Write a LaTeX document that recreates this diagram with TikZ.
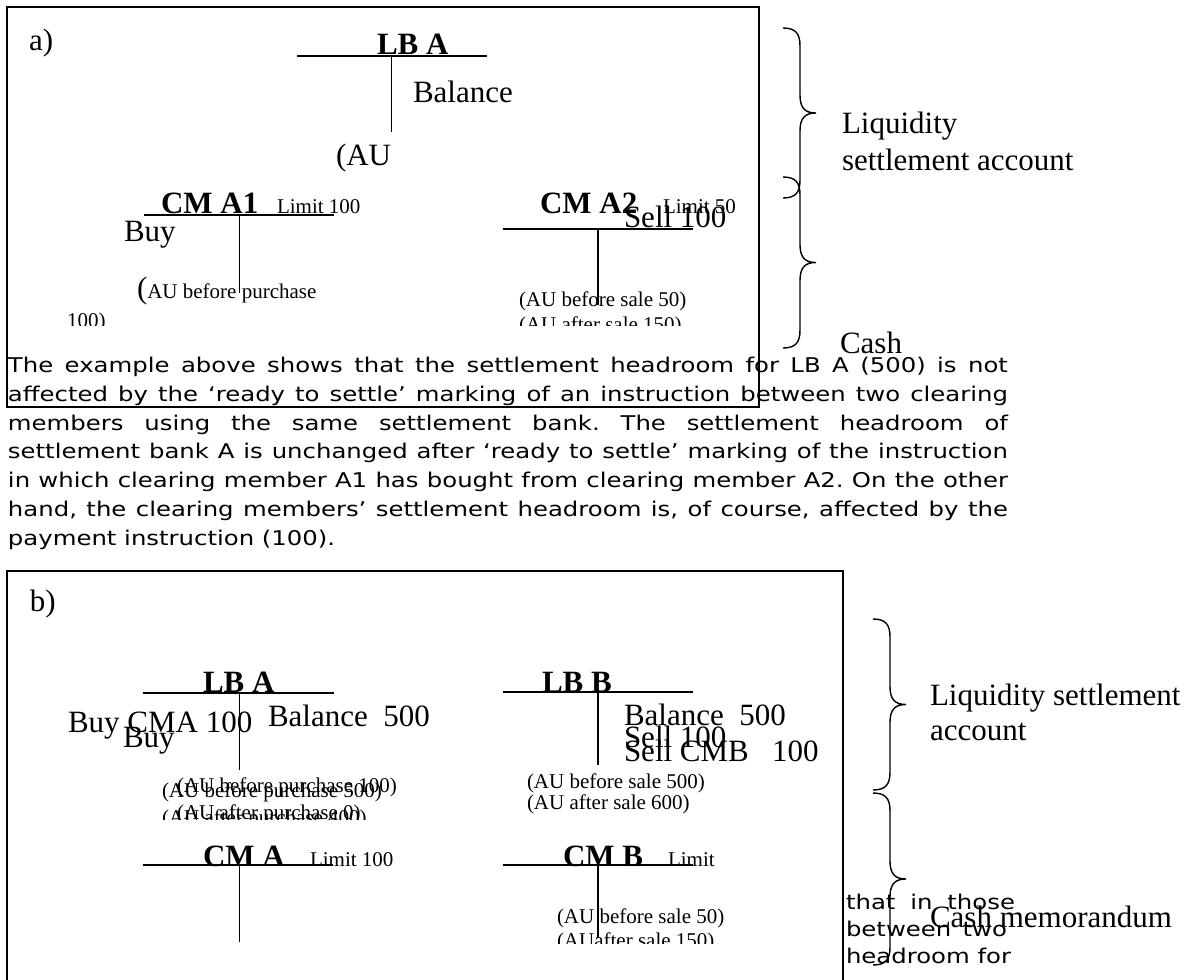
\documentclass[tikz,border=0pt]{standalone}
\usepackage{fontspec}
\setmainfont{Liberation Serif}
\newfontfamily\parafont[FakeStretch=1.2]{DejaVu Sans}
\frenchspacing
\tikzset{
  lbl/.style={anchor=base west, inner sep=0pt, outer sep=0pt},
  big/.style={lbl, font=\fontsize{31}{37}\selectfont},
  bigb/.style={lbl, font=\fontsize{31}{37}\selectfont\bfseries},
  small/.style={lbl, font=\fontsize{21}{25}\selectfont},
  para/.style={lbl, font=\parafont\fontsize{20.3}{28.8}\selectfont},
  boxframe/.style={line width=1.6pt},
  tline/.style={line width=1.8pt},
  vline/.style={line width=1.3pt},
  bracestyle/.style={line width=1.4pt},
}
\newcommand{\mybrace}[3]{%
  \pgfmathsetmacro{\bm}{(#2+#3)/2}%
  \draw[bracestyle] (#1,#2) .. controls ({#1+13},{#2}) and ({#1+17},{#2+6}) .. ({#1+17},{#2+18})
    -- ({#1+17},{\bm-18}) .. controls ({#1+17},{\bm-5}) and ({#1+22},{\bm}) .. ({#1+33},{\bm})
    .. controls ({#1+22},{\bm}) and ({#1+17},{\bm+5}) .. ({#1+17},{\bm+18})
    -- ({#1+17},{#3-18}) .. controls ({#1+17},{#3-6}) and ({#1+13},{#3}) .. (#1,#3);}
\newcommand{\jline}[2]{\makebox[#1][s]{#2}}
\begin{document}
\begin{tikzpicture}[x=1pt,y=-1pt]
\fill[white] (0,0) rectangle (1203,980);
\useasboundingbox (0,0) rectangle (1203,980);

% ---------------- frame a ----------------
\draw[boxframe] (7,7) rectangle (759,407);
\node[big] (alab) at (29,50) {a)};

% LB A
\draw[tline] (297,56) -- (487,56);
\draw[vline] (391.5,56) -- (391.5,132);
\node[bigb] (aLBA) at (377,54) {LB A};
\node[big] (aBal) at (413,102) {Balance};
\node[big] (aAU) at (336,165) {(AU};

% CM A1
\node[bigb] (aCMA1) at (161,213) {CM A1};
\node[small] (aLim1) at (277,213) {Limit 100};
\draw[tline] (144,215) -- (334,215);
\draw[vline] (239.5,215) -- (239.5,293);
\node[big] (aBuy) at (124,241) {Buy};
\node[lbl] (aAUbp) at (137,298) {{\fontsize{31}{37}\selectfont(}{\fontsize{21}{25}\selectfont AU before purchase}};
\begin{scope}
  \clip (10,280) rectangle (740,325.5);
  \node[small] (a100) at (67,327) {100)};
  \node[small] (aAUas) at (519,331) {(AU after sale 150)};
\end{scope}

% CM A2
\node[bigb] (aCMA2) at (540,213) {CM A2};
\node[small] (aLim2) at (663,213) {Limit 50};
\node[big] (aSell) at (624,227) {Sell 100};
\draw[tline] (503,229) -- (693,229);
\draw[vline] (598,229) -- (598,305);
\node[small] (aAUbs) at (519,306) {(AU before sale 50)};

% braces a
\mybrace{783}{28}{198}
\mybrace{783}{177}{348}
\node[big] (aLiq) at (842,133) {Liquidity};
\node[big] (aSet) at (842,170) {settlement account};
\node[big] (aCash) at (840,353) {Cash};

% ---------------- paragraph ----------------
\node[para] (p1) at (8,372) {\jline{1000pt}{The example above shows that the settlement headroom for LB A (500) is not}};
\node[para] (p2) at (8,401) {\jline{1000pt}{affected by the ‘ready to settle’ marking of an instruction between two clearing}};
\node[para] (p3) at (8,430) {\jline{1000pt}{members using the same settlement bank. The settlement headroom of}};
\node[para] (p4) at (8,458) {\jline{1000pt}{settlement bank A is unchanged after ‘ready to settle’ marking of the instruction}};
\node[para] (p5) at (8,487) {\jline{1000pt}{in which clearing member A1 has bought from clearing member A2. On the other}};
\node[para] (p6) at (8,516) {\jline{1000pt}{hand, the clearing members’ settlement headroom is, of course, affected by the}};
\node[para] (p7) at (8,545) {payment instruction (100).};

% ---------------- frame b ----------------
\draw[boxframe] (7,982) -- (7,571) -- (843,571) -- (843,982);
\node[big] (blab) at (30,611) {b)};

% LB A
\draw[tline] (143,693) -- (334,693);
\draw[vline] (239.5,693) -- (239.5,770);
\node[bigb] (bLBA) at (203,692) {LB A};
\node[big] (bBuyCMA) at (68,732) {Buy CMA 100};
\node[big] (bBal) at (268,726) {Balance\ \ 500};
\node[big] (bBuy) at (123,747) {Buy};
\node[small] (bAU1) at (162,797) {(AU before purchase 500)};
\node[small] (bAU2) at (177,792) {(AU before purchase 100)};
\begin{scope}
  \clip (100,800) rectangle (450,819.5);
  \node[small] (bAU3) at (162,824) {(AU after purchase 400)};
  \node[small] (bAU4) at (177,819) {(AU after purchase 0)};
\end{scope}

% LB B
\draw[tline] (503,692) -- (693,692);
\draw[vline] (598,692) -- (598,765);
\node[bigb] (bLBB) at (542,692) {LB B};
\node[big] (bBal2) at (624,725) {Balance\ \ 500};
\node[big] (bSell1) at (624,747) {Sell 100};
\node[big] (bSell2) at (624,761) {Sell CMB\ \ \ 100};
\node[small] (bAU5) at (527,788) {(AU before sale 500)};
\node[small] (bAU6) at (527,809) {(AU after sale 600)};

% CM A
\node[bigb] (bCMA) at (203,866) {CM A};
\node[small] (bLimA) at (310,866) {Limit 100};
\draw[tline] (143,865) -- (333,865);
\draw[vline] (239.5,865) -- (239.5,942);

% CM B
\node[bigb] (bCMB) at (563,866) {CM B};
\node[small] (bLimB) at (668,866) {Limit};
\draw[tline] (503,865) -- (693,865);
\draw[vline] (598,865) -- (598,938);
\node[small] (bAU7) at (557,923) {(AU before sale 50)};
\begin{scope}
  \clip (500,925) rectangle (800,943);
  \node[small] (bAU8) at (557,947) {(AUafter sale 150)};
\end{scope}

% braces b
\mybrace{873}{619}{790}
\mybrace{873}{793}{965}
\node[big] (bLiq) at (930,705) {Liquidity settlement};
\node[big] (bAcc) at (930,740) {account};
\node[big] (bCash) at (930,927) {Cash memorandum};

% overlapping text
\node[para] (q1) at (846,909) {\jline{169pt}{that in those}};
\node[para] (q2) at (846,936) {\jline{161pt}{between two}};
\node[para] (q3) at (846,963) {headroom for};
\end{tikzpicture}
\end{document}
